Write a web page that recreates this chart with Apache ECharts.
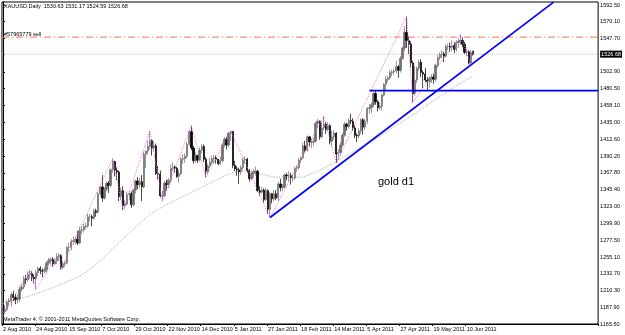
<!DOCTYPE html>
<html><head><meta charset="utf-8">
<script src="https://cdn.jsdelivr.net/npm/echarts@6/dist/echarts.min.js"></script>
<style>html,body{margin:0;padding:0;background:#fff}#c{width:625px;height:335px}</style>
</head><body><div id="c"></div>
<script>
// ---- data ----
const firstDay = '2010-08-02';
const totalSlots = 288;
// [open, close, low, high]
const candles = [
[1181,1182,1176,1188],[1182,1185,1179,1191],[1185,1195,1183,1198],[1195,1197,1190,1200],[1197,1205,1189,1208],
[1205,1201,1196,1210],[1201,1198,1192,1206],[1198,1199,1193,1205],[1199,1212,1195,1216],[1212,1215,1209,1219],
[1215,1226,1212,1230],[1226,1225,1219,1231],[1225,1232,1222,1236],[1232,1233,1226,1238],[1233,1228,1223,1236],
[1228,1226,1220,1232],[1226,1234,1212,1238],[1234,1240,1229,1242],[1240,1237,1232,1243],[1237,1236,1228,1240],
[1236,1238,1233,1242],[1238,1247,1234,1250],
[1247,1250,1243,1254],[1250,1252,1245,1255],[1252,1246,1242,1255],[1246,1250,1244,1253],[1250,1256,1246,1260],
[1256,1257,1250,1260],[1257,1241,1238,1259],[1241,1246,1239,1250],[1246,1247,1242,1250],[1247,1268,1245,1270],
[1268,1268,1262,1274],[1268,1276,1264,1279],[1276,1277,1272,1283],[1277,1279,1272,1283],[1279,1274,1271,1290],
[1274,1291,1272,1296],[1291,1292,1286,1297],[1292,1296,1288,1300],[1296,1297,1292,1301],[1297,1309,1294,1313],
[1309,1309,1303,1313],[1309,1307,1296,1312],
[1307,1317,1305,1320],[1317,1315,1309,1320],[1315,1340,1313,1342],[1340,1349,1336,1351],[1349,1334,1329,1365],
[1334,1346,1332,1349],[1346,1354,1343,1356],[1354,1351,1341,1357],[1351,1372,1348,1374],[1372,1383,1368,1387],
[1383,1371,1363,1384],[1371,1369,1358,1375],[1369,1336,1330,1371],[1336,1344,1331,1348],[1344,1324,1318,1350],
[1324,1326,1320,1331],[1326,1339,1324,1343],[1339,1340,1331,1344],[1340,1325,1321,1343],[1325,1345,1323,1347],
[1345,1357,1340,1359],
[1357,1352,1346,1362],[1352,1356,1347,1361],[1356,1349,1330,1365],[1349,1393,1347,1396],[1393,1397,1374,1398],
[1397,1403,1392,1411],[1403,1411,1399,1424],[1411,1401,1391,1413],[1401,1404,1397,1410],[1404,1367,1365,1407],
[1367,1366,1359,1377],[1366,1337,1335,1371],[1337,1337,1330,1344],[1337,1354,1335,1357],[1354,1352,1344,1359],
[1352,1358,1347,1361],[1358,1374,1354,1379],[1374,1375,1370,1382],[1375,1374,1368,1378],[1374,1363,1361,1376],
[1363,1367,1355,1372],[1367,1386,1365,1389],
[1386,1387,1380,1393],[1387,1390,1381,1394],[1390,1406,1387,1409],[1406,1423,1404,1425],[1423,1401,1398,1431],
[1401,1384,1380,1404],[1384,1391,1382,1395],[1391,1385,1381,1392],[1385,1398,1383,1402],[1398,1403,1394,1406],
[1403,1386,1382,1406],[1386,1370,1362,1389],[1370,1377,1366,1380],[1377,1382,1374,1388],[1382,1387,1379,1391],
[1387,1388,1380,1392],[1388,1386,1380,1391],[1386,1380,1378,1385],[1380,1384,1378,1390],[1384,1405,1382,1408],
[1405,1413,1402,1415],[1413,1405,1399,1416],[1405,1421,1402,1423],
[1421,1423,1410,1424],[1423,1378,1374,1424],[1378,1373,1370,1384],[1373,1372,1364,1377],[1372,1369,1353,1375],
[1369,1375,1365,1378],[1375,1385,1372,1388],[1385,1386,1380,1390],[1386,1371,1368,1388],[1371,1360,1356,1373],
[1360,1367,1358,1370],[1367,1369,1361,1373],[1369,1370,1364,1376],[1370,1344,1342,1372],[1344,1342,1337,1350],
[1342,1345,1340,1349],[1345,1332,1328,1347],[1332,1344,1330,1348],[1344,1319,1313,1346],[1319,1340,1308,1342],
[1340,1333,1327,1341],
[1333,1340,1330,1345],[1340,1334,1331,1345],[1334,1353,1330,1356],[1353,1348,1343,1360],[1348,1349,1343,1353],
[1349,1365,1347,1367],[1365,1364,1358,1368],[1364,1364,1356,1370],[1364,1361,1352,1368],[1361,1361,1356,1366],
[1361,1374,1358,1376],[1374,1375,1369,1378],[1375,1385,1372,1388],[1385,1388,1381,1390],[1388,1404,1386,1408],
[1404,1398,1395,1411],[1398,1416,1396,1418],[1416,1409,1403,1417],[1409,1409,1401,1414],[1409,1410,1404,1415],
[1410,1434,1408,1436],[1434,1437,1428,1440],[1437,1416,1412,1438],[1416,1428,1414,1436],[1428,1433,1425,1444],
[1433,1426,1420,1436],[1426,1431,1423,1436],[1431,1410,1406,1433],[1410,1416,1403,1424],[1416,1421,1411,1425],
[1421,1393,1381,1422],[1393,1395,1385,1400],[1395,1405,1391,1409],[1405,1418,1402,1421],[1418,1433,1416,1436],
[1433,1430,1424,1435],[1430,1438,1427,1441],[1438,1437,1433,1447],[1437,1428,1424,1441],[1428,1418,1414,1432],
[1418,1417,1409,1421],[1417,1424,1414,1428],[1424,1439,1420,1441],
[1439,1429,1419,1441],[1429,1437,1425,1440],[1437,1454,1433,1456],[1454,1455,1447,1460],[1455,1459,1448,1462],
[1459,1474,1456,1476],[1474,1463,1459,1478],[1463,1455,1450,1465],[1455,1457,1452,1462],[1457,1472,1451,1474],
[1472,1486,1470,1488],[1486,1493,1479,1497],[1493,1495,1489,1498],[1495,1502,1492,1505],[1502,1503,1497,1506],
[1503,1504,1499,1507],[1504,1510,1501,1518],[1510,1505,1495,1512],[1505,1521,1502,1524],[1521,1535,1519,1537],
[1535,1556,1531,1564],
[1556,1545,1535,1577],[1545,1540,1527,1550],[1540,1515,1509,1544],[1515,1474,1462,1518],[1474,1492,1471,1511],
[1492,1508,1488,1510],[1508,1516,1504,1519],[1516,1502,1496,1520],[1502,1500,1481,1505],[1500,1492,1489,1508],
[1492,1490,1478,1496],[1490,1494,1482,1497],[1494,1496,1488,1500],[1496,1493,1487,1500],[1493,1512,1490,1514],
[1512,1522,1509,1526],[1522,1526,1519,1529],[1526,1527,1521,1532],[1527,1524,1516,1530],[1524,1537,1522,1540],
[1537,1537,1532,1541],[1537,1536,1530,1542],
[1536,1538,1530,1545],[1538,1533,1528,1543],[1533,1542,1530,1545],[1542,1544,1535,1547],[1544,1545,1539,1553],
[1545,1540,1536,1549],[1540,1529,1527,1543],[1529,1530,1524,1534],[1530,1515,1513,1532],[1515,1529,1512,1532],
[1530.63,1526.68,1524.59,1531.17]
];
// zigzag turning points [bar index, price]
const zigzag = [[0,1176],[13,1238],[16,1212],[27,1260],[28,1238],[53,1387],[58,1318],[71,1424],[77,1330],[91,1431],
[98,1362],[110,1424],[129,1308],[155,1444],[161,1381],[195,1577],[198,1462],[221,1553],[226,1512],[227,1531]];
// moving average [bar index, price]
const maLine = [[0,1193],[5,1197],[9,1200],[18,1208],[31,1222],[39,1233],[47,1250],[55,1272],[63,1292],[71,1312],
[79,1325],[87,1336],[95,1347],[103,1358],[111,1368],[118,1370],[125,1366],[133,1362],[143,1362],[150,1368],
[157,1377],[164,1388],[171,1399],[180,1413],[187,1426],[195,1440],[203,1455],[210,1468],[218,1483],[227,1497]];
const trendLine = [[129,1308],[266,1596.3]];
const levelLine = [[177,1478],[287.5,1478]];
const sellLine = [[-0.5,1549.5],[287.5,1549.5]];
const bidLine = [[-0.5,1526.68],[287.5,1526.68]];
const bidLevel = 1526.68;
const priceTicks = [1165.50,1187.90,1210.30,1232.70,1255.10,1277.50,1299.90,1323.00,1345.40,1367.80,1390.20,
1412.60,1435.00,1458.10,1480.50,1502.90,1526.68,1547.70,1570.10,1592.50];
const titleText = 'XAUUSD,Daily  1530.63 1531.17 1524.59 1526.68';
const orderText = '#57965779 sell';
const noteText = 'gold d1';
const copyText = 'MetaTrader 4, \u00a9 2001-2011 MetaQuotes Software Corp.';
const monthNames = ['Jan','Feb','Mar','Apr','May','Jun','Jul','Aug','Sep','Oct','Nov','Dec'];

// ---- categories: consecutive weekdays ----
const categories = [];
{
  const d = new Date(firstDay + 'T00:00:00Z');
  while (categories.length < totalSlots) {
    const wd = d.getUTCDay();
    if (wd !== 0 && wd !== 6) categories.push(d.getUTCDate() + ' ' + monthNames[d.getUTCMonth()] + ' ' + d.getUTCFullYear());
    d.setUTCDate(d.getUTCDate() + 1);
  }
}
const showDate = (i) => i % 16 === 0 && i < candles.length;
const FONT = 'Liberation Sans';

const chart = echarts.init(document.getElementById('c'), null, {renderer: 'canvas'});
const flat = (data, color, width, type, z) => ({
  type: 'line', xAxisIndex: 1, data: data, showSymbol: false, silent: true, z: z,
  lineStyle: {color: color, width: width, type: type}
});
chart.setOption({
  animation: false,
  backgroundColor: '#ffffff',
  grid: {left: 1, right: 22, top: 2, bottom: 11, show: true, borderColor: '#000', borderWidth: 1, backgroundColor: '#fff'},
  xAxis: [{
    type: 'category', data: categories, boundaryGap: true,
    axisLine: {show: true, lineStyle: {color: '#000', width: 1}},
    axisTick: {show: true, length: 2, interval: (i) => showDate(i), lineStyle: {color: '#000'}},
    axisLabel: {interval: (i) => showDate(i), formatter: (v, i) => showDate(i) ? v : '', align: 'left',
      margin: 2, fontSize: 5.5, fontFamily: FONT, color: '#000'},
    splitLine: {show: false}
  }, {
    type: 'value', min: -0.5, max: totalSlots - 0.5, show: false
  }],
  yAxis: {
    type: 'value', position: 'right', min: 1165.5, max: 1596.5, scale: true,
    axisLine: {show: true, lineStyle: {color: '#000'}},
    axisTick: {show: true, length: 2, customValues: priceTicks, lineStyle: {color: '#000'}},
    axisLabel: {customValues: priceTicks, margin: 2, fontSize: 5.5, fontFamily: FONT, color: '#000',
      formatter: (v) => Math.abs(v - bidLevel) < 0.01 ? '{cur|' + v.toFixed(2) + '}' : v.toFixed(2),
      rich: {cur: {backgroundColor: '#000', color: '#fff', fontSize: 5.5, fontFamily: FONT, padding: [1, 1, 0, 1]}}},
    splitLine: {show: false}
  },
  series: [
    flat(sellLine, '#f07a45', 1, [7, 3, 1, 3], 1),
    flat(bidLine, '#c0c0c0', 1, [1, 1], 1),
    {
      type: 'line', xAxisIndex: 1, data: maLine, smooth: 0.4, showSymbol: false, silent: true, z: 2,
      lineStyle: {color: '#a0a0a0', width: 1, type: [1, 1.5]}
    }, {
      type: 'candlestick', xAxisIndex: 0, z: 3, data: candles.map(c => [c[0], c[1], c[2], c[3]]),
      barWidth: 1.8,
      itemStyle: {color: '#6e6e6e', color0: '#000000', borderColor: '#6e6e6e', borderColor0: '#000000', borderWidth: 0.7}
    }, {
      type: 'line', xAxisIndex: 1, data: zigzag, showSymbol: false, silent: true, z: 4,
      lineStyle: {color: '#f25cf2', width: 1, type: [1, 1.5]}
    },
    flat(trendLine, '#0000ff', 1.7, 'solid', 5),
    flat(levelLine, '#0000ff', 1.7, 'solid', 5)
  ],
  graphic: [
    {type: 'text', left: 4, top: 3, style: {text: titleText, fontSize: 5.5, fontFamily: FONT, fill: '#000'}},
    {type: 'text', left: 4, top: 31, style: {text: orderText, fontSize: 5.5, fontFamily: FONT, fill: '#000'}},
    {type: 'text', left: 378, top: 176, style: {text: noteText, fontSize: 11, fontFamily: FONT, fill: '#000'}},
    {type: 'text', left: 3, top: 316, style: {text: copyText, fontSize: 5.5, fontFamily: FONT, fill: '#000'}}
  ]
});
</script></body></html>
